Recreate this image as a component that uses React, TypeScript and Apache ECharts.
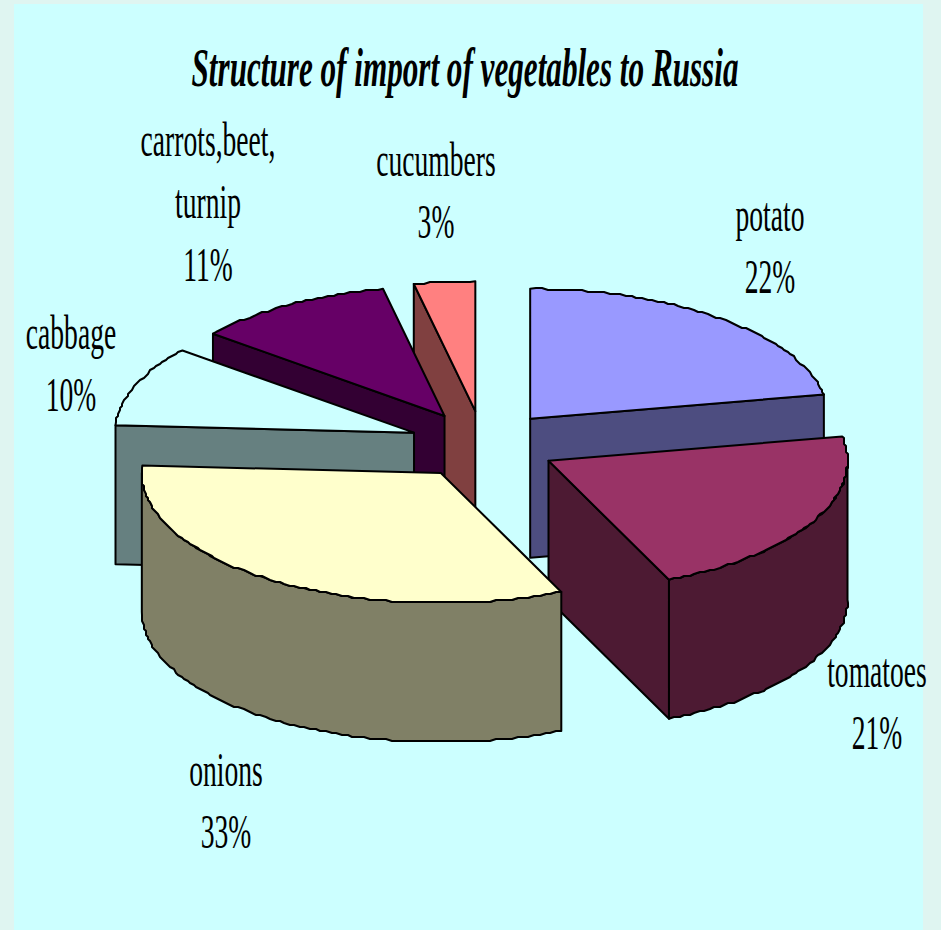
import React, { useEffect, useRef } from "react";
import * as echarts from "echarts";

const TITLE = "Structure of import of vegetables to Russia";
const categories = ["potato", "tomatoes", "onions", "cabbage", "carrots,beet,\nturnip", "cucumbers"];
const shares = [22, 21.4, 32.5, 10, 10.8, 3.3];
const topColors = ["#9999FF", "#993366", "#FFFFCC", "#CCFFFF", "#660066", "#FF8080"];
const sideColors = ["#4D4D80", "#4D1A33", "#808066", "#668080", "#330033", "#804040"];
const drawOrder = [0, 5, 4, 3, 1, 2];

// Label anchors: centre x and top y of the first line, per category
const labelX = [770, 877, 226, 71, 208, 436];
const labelY = [190, 646, 745, 308, 115, 135];

const CX = 483, CY = 445, RX = 299, RY = 130, DEPTH = 139;
const EXPLODE_X = 74, EXPLODE_Y = 34;
const FONT = "'Liberation Serif', 'Times New Roman', serif";
const SNAP = 2;

const total = shares.reduce((a, b) => a + b, 0);
const starts: number[] = [];
shares.reduce((acc, v, i) => {
  starts[i] = acc;
  return acc + (v / total) * 360;
}, 0);

const rad = (d: number) => (d * Math.PI) / 180;
const snap = (v: number) => Math.round(v / SNAP) * SNAP;

function arc(ox: number, oy: number, a: number, b: number): number[][] {
  const n = Math.max(2, Math.ceil((b - a) * 0.9));
  const pts: number[][] = [];
  for (let k = 0; k <= n; k++) {
    const t = rad(a + ((b - a) * k) / n);
    const x = ox + RX * Math.sin(t);
    const y = oy - RY * Math.cos(t);
    pts.push(k === 0 || k === n ? [x, y] : [snap(x), snap(y)]);
  }
  return pts;
}

function renderSlice(params: any) {
  const i = drawOrder[params.dataIndex];
  const a = starts[i];
  const b = a + (shares[i] / total) * 360;
  const mid = rad((a + b) / 2);
  const ox = CX + EXPLODE_X * Math.sin(mid);
  const oy = CY - EXPLODE_Y * Math.cos(mid);
  const line = { stroke: "#000", lineWidth: 2, lineJoin: "round" };
  const side = { ...line, fill: sideColors[i] };
  const children: any[] = [];
  const down = (p: number[]) => [p[0], p[1] + DEPTH];
  const radial = (t: number) => {
    const p = [ox + RX * Math.sin(rad(t)), oy - RY * Math.cos(rad(t))];
    children.push({
      type: "polygon",
      shape: { points: [[ox, oy], p, down(p), down([ox, oy])] },
      style: side,
    });
  };
  if (Math.sin(rad(a)) < -1e-6) radial(a);
  if (Math.sin(rad(b)) > 1e-6) radial(b);
  const wa = Math.max(a, 90);
  const wb = Math.min(b, 270);
  if (wb > wa) {
    const edge = arc(ox, oy, wa, wb);
    children.push({
      type: "polygon",
      shape: { points: [...edge, ...edge.map(down).reverse()] },
      style: side,
    });
  }
  children.push({
    type: "polygon",
    shape: { points: [[ox, oy], ...arc(ox, oy, a, b)] },
    style: { ...line, fill: topColors[i] },
  });
  const pct = Math.round(shares[i]) + "%";
  const lines = [...categories[i].split("\n"), pct];
  lines.forEach((text, k) => {
    children.push({
      type: "text",
      x: labelX[i],
      y: labelY[i] + k * 62.5,
      scaleX: 0.575,
      style: {
        text,
        fontFamily: FONT,
        fontSize: 48,
        fill: "#000",
        textAlign: "center",
      },
    });
  });
  return { type: "group", children };
}

export default function App() {
  const ref = useRef<HTMLDivElement>(null);
  useEffect(() => {
    document.body.style.margin = "0";
    document.body.style.overflow = "hidden";
    const chart = echarts.init(ref.current!, undefined, { renderer: "svg" });
    chart.setOption({
      animation: false,
      backgroundColor: "#DFF5F1",
      graphic: [
        {
          type: "rect",
          shape: { x: 14, y: 4, width: 909, height: 926 },
          style: { fill: "#CCFFFF" },
          z: 0,
        },
        {
          type: "text",
          x: 465,
          y: 41,
          scaleX: 0.577,
          z: 1,
          style: {
            text: TITLE,
            fontFamily: FONT,
            fontSize: 54,
            fontWeight: "bold",
            fontStyle: "italic",
            fill: "#000",
            textAlign: "center",
          },
        },
      ],
      series: [
        {
          type: "custom",
          coordinateSystem: "none",
          silent: true,
          data: drawOrder.map((i) => [shares[i]]),
          renderItem: renderSlice,
        },
      ],
    });
    return () => chart.dispose();
  }, []);
  return <div ref={ref} style={{ width: 941, height: 930 }} />;
}
